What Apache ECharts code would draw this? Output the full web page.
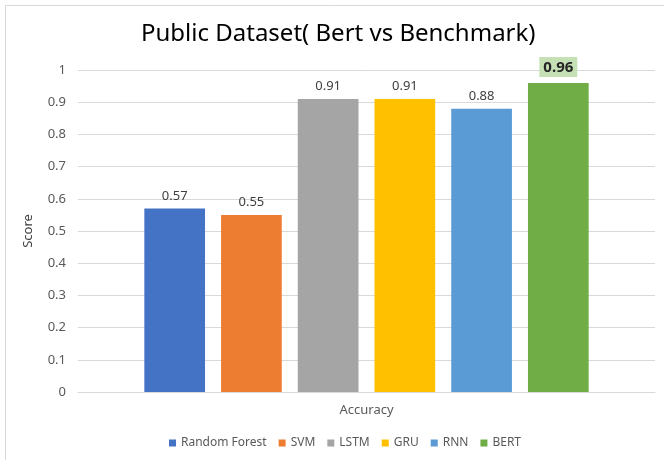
<!DOCTYPE html>
<html>
<head>
<meta charset="utf-8">
<script src="https://cdn.jsdelivr.net/npm/echarts@6/dist/echarts.min.js"></script>
<style>
    html, body { margin: 0; padding: 0; background: #fff; }
    #main { width: 664px; height: 460px; }
</style>
</head>
<body>
<div id="main"></div>
<script>
// 图表数据
var categories = ['Accuracy'];
var modelNames = ['Random Forest', 'SVM', 'LSTM', 'GRU', 'RNN', 'BERT'];
var modelScores = [0.57, 0.55, 0.91, 0.91, 0.88, 0.96];
var modelColors = ['#4472C4', '#ED7D31', '#A5A5A5', '#FFC000', '#5B9BD5', '#70AD47'];
var yTicks = [0, 0.1, 0.2, 0.3, 0.4, 0.5, 0.6, 0.7, 0.8, 0.9, 1];

var fontName = 'Noto Sans';
var myChart = echarts.init(document.getElementById('main'));

var series = modelNames.map(function (name, i) {
    var label = {
        show: true,
        position: 'top',
        distance: 6,
        color: '#404040',
        fontSize: 13,
        fontFamily: fontName
    };
    if (name === 'BERT') {
        // BERT 的标签加粗并带背景
        label.fontWeight = 'bold';
        label.fontSize = 15;
        label.color = '#262626';
        label.backgroundColor = '#C5E0B4';
        label.padding = [3, 4, 2, 4];
    }
    return {
        name: name,
        type: 'bar',
        barWidth: 60.7,
        barGap: '26.4%',
        data: [modelScores[i]],
        itemStyle: { color: modelColors[i] },
        label: label
    };
});

var option = {
    animation: false,
    backgroundColor: '#fff',
    textStyle: { fontFamily: fontName },
    graphic: [{
        type: 'rect',
        shape: { x: 5.5, y: 5.5, width: 700, height: 500 },
        style: { fill: 'none', stroke: '#D9D9D9', lineWidth: 1 },
        silent: true
    }],
    title: {
        text: 'Public Dataset( Bert vs Benchmark)',
        left: 136,
        top: 17,
        textStyle: { fontFamily: fontName, fontSize: 24, fontWeight: 'normal', color: '#000' }
    },
    legend: {
        bottom: 6,
        left: 164,
        itemWidth: 7,
        itemHeight: 7,
        itemGap: 12,
        icon: 'rect',
        textStyle: { fontFamily: fontName, fontSize: 12, color: '#595959' },
        data: modelNames
    },
    grid: { left: 78, right: 9, top: 70, bottom: 68 },
    xAxis: {
        type: 'category',
        data: categories,
        axisLine: { lineStyle: { color: '#D9D9D9' } },
        axisTick: { show: false },
        axisLabel: { color: '#595959', fontSize: 13, margin: 12 }
    },
    yAxis: {
        type: 'value',
        min: yTicks[0],
        max: yTicks[yTicks.length - 1],
        interval: 0.1,
        name: 'Score',
        nameLocation: 'middle',
        nameGap: 43,
        nameTextStyle: { color: '#404040', fontSize: 13 },
        axisLine: { show: false },
        axisTick: { show: false },
        axisLabel: { color: '#595959', fontSize: 13, margin: 12 },
        splitLine: { lineStyle: { color: '#D9D9D9' } }
    },
    series: series
};

myChart.setOption(option);
</script>
</body>
</html>
